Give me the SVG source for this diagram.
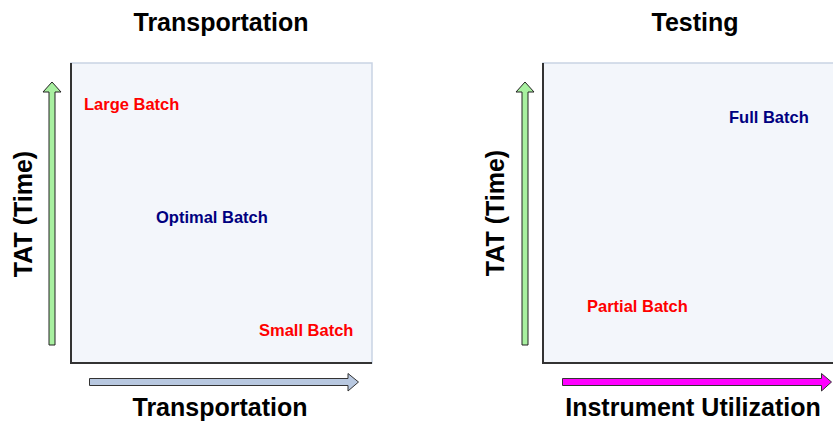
<svg xmlns="http://www.w3.org/2000/svg" width="833" height="424" viewBox="0 0 833 424">
  <style>
    text { font-family: "Liberation Sans", Arial, sans-serif; font-weight: bold; }
    .title { font-size: 25px; fill: #000; text-anchor: middle; }
    .axis { font-size: 25px; fill: #000; text-anchor: middle; }
    .red { font-size: 16.5px; fill: #ff0000; }
    .navy { font-size: 16.5px; fill: #000080; }
    .plot { fill: #f3f6fb; stroke: #c9d3e4; stroke-width: 1.5; }
    .edge { stroke: #333; stroke-width: 2; fill: none; }
    .up { fill: #a8f0a0; stroke: #222; stroke-width: 1; }
  </style>

  <rect width="833" height="424" fill="#fff"/>

  <!-- Left chart: transportation -->
  <g id="transport-chart">
    <text class="title" x="221" y="31">Transportation</text>
    <rect class="plot" x="71" y="63" width="301" height="300"/>
    <path class="edge" d="M71 63 V363 H372" stroke="#555"/>
    <text class="axis" transform="translate(32 214) rotate(-90)">TAT (Time)</text>
    <text class="axis" x="220" y="416">Transportation</text>
  </g>

  <g id="large-batch"><text class="red" x="84" y="110">Large Batch</text></g>
  <g id="optimal-batch"><text class="navy" x="156" y="223">Optimal Batch</text></g>
  <g id="small-batch"><text class="red" x="259" y="336">Small Batch</text></g>

  <!-- Right chart: testing -->
  <g id="testing-chart">
    <text class="title" x="695" y="31">Testing</text>
    <rect class="plot" x="543" y="63" width="300" height="300"/>
    <path class="edge" d="M543 63 V363 H833"/>
    <text class="axis" transform="translate(504 213) rotate(-90)">TAT (Time)</text>
    <text class="axis" x="693" y="416">Instrument Utilization</text>
  </g>

  <g id="full-batch"><text class="navy" x="729" y="123">Full Batch</text></g>
  <g id="partial-batch"><text class="red" x="587" y="312">Partial Batch</text></g>

  <!-- Axis arrows -->
  <g id="connectors">
    <path class="up" d="M49 345 V92 H43 L52 82 L61 92 H55 V345 Z"/>
    <path d="M89.5 378.5 H348 V373.5 L358.5 382 L348 391 V385.5 H89.5 Z" fill="#b8c8e0" stroke="#333" stroke-width="1"/>
    <path class="up" d="M522 345 V92 H516 L525 82 L534 92 H528 V345 Z"/>
    <path d="M562.5 378.5 H821.5 V373.5 L831.5 382 L821.5 391 V385.5 H562.5 Z" fill="#ff00ff" stroke="#333" stroke-width="1"/>
  </g>
</svg>
